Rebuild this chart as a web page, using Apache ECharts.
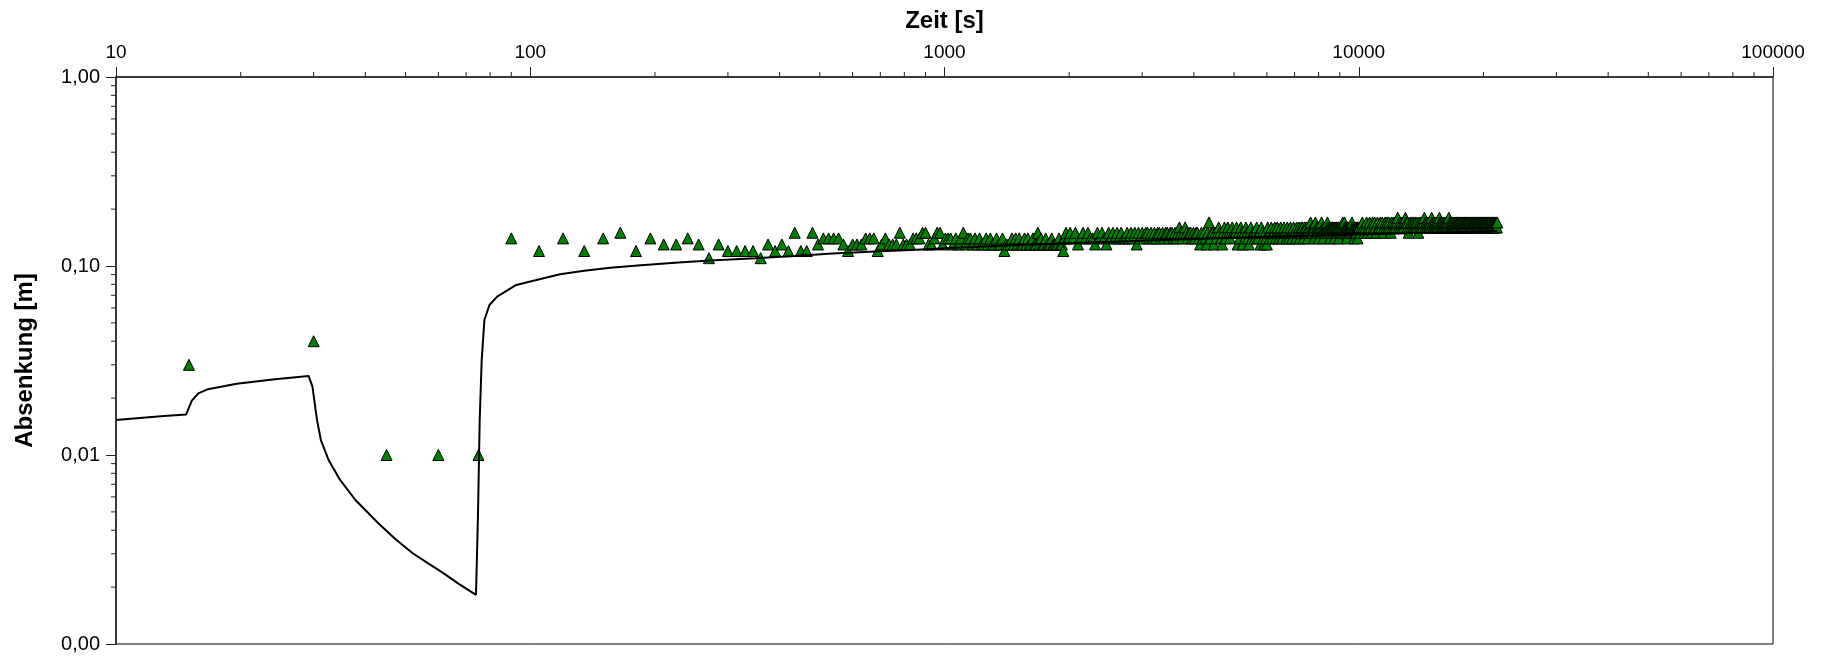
<!DOCTYPE html>
<html>
<head>
<meta charset="utf-8">
<script src="https://cdn.jsdelivr.net/npm/echarts@6/dist/echarts.min.js"></script>
<style>
  html, body { margin: 0; padding: 0; background: #fff; }
  #chart { width: 1829px; height: 658px; }
</style>
</head>
<body>
<div id="chart"></div>
<script>
// Measured drawdown in cm, logged at regular intervals (start time and step in s)
const measStartA = 15, measStepA = 15;
const measA = [3,4,1,1,1, 14,12,14,12,14, 15,12,14,13,13, 14,13,11,13,12,
  12,12,12,11,13, 12,13,12,15,12, 12,15,13,14,14, 14,14,13,12,13,
  13,13,14,14,14, 12,13,14,13,13, 13,15,13,13,13, 14,14,14,15,15,
  13,13,14,15,15, 13,14,14];

const measStartB = 1035, measStepB = 15;
const measB = [14,13,14,13,14, 15,
  13,14,14,13,14,13,14,13,13,14,13,14,13,13,14,13,13,14,
  12,
  13,13,13,14,13,
  14,13,14,13,13,14,13,14,13,13,14,13,13,15,13,14,13,13,14,
  13,13,13,14,13,13,13,13,14,13,13,
  12,
  14,15,14,14,15];

const measStartC = 2040, measStepC = 30;
const measC = [14,15,13,14,15,14,15,14,14,13,
  15,14,15,14,13,15,14,15,14,15,
  14,15,14,14,15,14,15,14,15,13,
  15,14,15,14,15,15,14,15,14,15,
  14,15,15,14,15,14,15,15,14,15,
  15,14,15,14,15,16,15,14,15,16,
  15,14,15,15,14,15,14,15,15,14,
  13,15,14,15,14,13,15,17,14,15,
  15,13,15,14,15,16,15,14,13,15,
  16,14,15,16,15,14,15,16,15,15];

const measStartD = 5040, measStepD = 30;
const measD = [15,16,13,15,14,16,15,13,15,14,
  16,15,14,13,15,16,14,15,15,14,
  15,16,14,15,15,13,16,15,14,13,
  15,14,13,16,15,14,15,16,14,15,
  15,16,14,15,16,15,14,15,16,15,
  14,15,16,15,15,14,16,15,14,15,
  16,15,14,15,16,15,15,14,16,15,
  15,16,14,15,16,15,16,14,15,16,
  15,16,15,14,16,15,16,17,15,16,
  15,16,14,16,17,15,16,15,16,14,
  16,15,16,17,15,16,14,16,15,16,
  15,16,17,16,15,16,14,16,15,16,
  16,15,16,14,16,15,16,15,16,15,
  16,14,16,15,16,15,16,17,15,16,
  17,16,15,16,14,16,15,16,15,16,
  16,15,16,17,16,15,16,14,16,15,
  16,15,16,14,16,16];

const measStartE = 10020, measStepE = 60;
const measE = [16,15,16,17,16,15,16,17,15,16,
  17,16,15,17,16,17,16,15,17,16,
  16,17,16,17,15,16,17,16,17,16,
  17,16,15,17,16,17,16,17,16,17,
  18,16,17,16,17,16,17,16,17,18,
  17,16,17,15,16,17,16,17,16,17,
  16,17,16,17,16,15,17,16,17,16,
  17,16,17,18,16,17,16,17,16,17,
  16,17,16,18,17,16,17,16,17,16,
  17,16,17,16,18,17,16,17,16,17,
  16,17,16,17,16,17,16,17,18,16,
  17,16,17,16,17,16,17,16,17,16,
  17,16,17,17,16,17,16,17,16,17,
  16,17,16,17,16,17,17,16,17,16,
  17,16,17,16,17,16,17,16,17,17,
  16,17,16,17,16,17,16,17,16,17,
  16,17,17,16,17,16,17,16,17,16,
  17,16,17,16,17,17,16,17,16,17,
  16,17,16,17,16,17,16,17,16,17,
  16,17,16,17];

// Fitted type curve: time [s] and drawdown [m]
const modelTime = [10, 13.05, 14.77, 15.24, 15.81, 16.67, 19.56, 24.19, 29.17, 29.8,
  30.57, 31.23, 32.6, 34.75, 37.84, 42.98, 47.3, 52.04, 56.7, 61.7,
  67.2, 73.96, 74.8, 75.5, 76.35, 77.5, 79.7, 83.2, 92.5, 102.9,
  118, 135, 156, 185, 228, 272, 349, 434, 536, 660,
  910, 1000, 1500, 2000, 3000, 4000, 6000, 10000, 15000, 21600];
const modelDrawdown = [0.0153, 0.0161, 0.0164, 0.0194, 0.0212, 0.0223, 0.0238, 0.0252, 0.0262, 0.0230,
  0.0153, 0.0120, 0.00941, 0.00738, 0.00578, 0.00435, 0.00358, 0.00302, 0.00267, 0.00237,
  0.00208, 0.00182, 0.00491, 0.0153, 0.0318, 0.0518, 0.0622, 0.0689, 0.0794, 0.0840,
  0.0905, 0.0945, 0.0978, 0.101, 0.1045, 0.107, 0.110, 0.113, 0.1165, 0.119,
  0.1225, 0.124, 0.129, 0.132, 0.136, 0.139, 0.143, 0.147, 0.150, 0.153];

// Axis ranges
const xDecades = [10, 100, 1000, 10000, 100000];
const yDecades = [0.001, 0.01, 0.1, 1];

function segment(start, step, values) {
  return values.map((v, i) => [start + i * step, v / 100]);
}
const measured = [].concat(
  segment(measStartA, measStepA, measA),
  segment(measStartB, measStepB, measB),
  segment(measStartC, measStepC, measC),
  segment(measStartD, measStepD, measD),
  segment(measStartE, measStepE, measE)
);
const model = modelTime.map((t, i) => [t, modelDrawdown[i]]);

// Intermediate log ticks (2..9 within each decade)
function minorValues(decades) {
  const out = [];
  for (let k = 0; k < decades.length - 1; k++) {
    for (let d = 2; d <= 9; d++) out.push(+(decades[k] * d).toPrecision(6));
  }
  return out;
}
const xMinor = minorValues(xDecades).map(v => [v, yDecades[yDecades.length - 1]]);
const yMinor = minorValues(yDecades).map(v => [xDecades[0], v]);

const FONT = "'Liberation Sans', Arial, sans-serif";
const chart = echarts.init(document.getElementById('chart'), null, { renderer: 'canvas' });

chart.setOption({
  animation: false,
  backgroundColor: '#fff',
  grid: { left: 116, right: 56, top: 77, bottom: 14, show: true, borderColor: '#000', borderWidth: 1, backgroundColor: 'transparent' },
  xAxis: {
    type: 'log', logBase: 10, position: 'top',
    min: xDecades[0], max: xDecades[xDecades.length - 1],
    name: 'Zeit [s]', nameLocation: 'middle', nameGap: 44,
    nameTextStyle: { fontFamily: FONT, fontWeight: 'bold', fontSize: 24, color: '#000' },
    axisLine: { show: true, lineStyle: { color: '#222', width: 1.5 } },
    axisTick: { show: true, inside: false, length: 10, lineStyle: { color: '#222', width: 1 } },
    axisLabel: { fontFamily: FONT, fontSize: 19, color: '#000', margin: 15,
      formatter: v => String(Math.round(v)) },
    splitLine: { show: false }
  },
  yAxis: {
    type: 'log', logBase: 10,
    min: yDecades[0], max: yDecades[yDecades.length - 1],
    name: 'Absenkung [m]', nameLocation: 'middle', nameGap: 79, nameRotate: 90,
    nameTextStyle: { fontFamily: FONT, fontWeight: 'bold', fontSize: 24, color: '#000' },
    axisLine: { show: true, lineStyle: { color: '#222', width: 1.5 } },
    axisTick: { show: true, inside: false, length: 10, lineStyle: { color: '#222', width: 1 } },
    axisLabel: { fontFamily: FONT, fontSize: 20, color: '#000', margin: 16,
      formatter: v => v.toFixed(2).replace('.', ',') },
    splitLine: { show: false }
  },
  series: [
    {
      name: 'xMinorTicks', type: 'custom', silent: true, clip: false, z: 5,
      data: xMinor,
      renderItem: (params, api) => {
        const p = api.coord([api.value(0), api.value(1)]);
        return { type: 'line', shape: { x1: p[0], y1: p[1], x2: p[0], y2: p[1] - 5 },
          style: { stroke: '#222', lineWidth: 1 } };
      }
    },
    {
      name: 'yMinorTicks', type: 'custom', silent: true, clip: false, z: 5,
      data: yMinor,
      renderItem: (params, api) => {
        const p = api.coord([api.value(0), api.value(1)]);
        return { type: 'line', shape: { x1: p[0] - 5, y1: p[1], x2: p[0], y2: p[1] },
          style: { stroke: '#222', lineWidth: 1 } };
      }
    },
    {
      name: 'Messwerte', type: 'scatter', symbol: 'triangle', symbolSize: 11, z: 3,
      itemStyle: { color: '#008000', borderColor: '#000', borderWidth: 1, opacity: 1 },
      data: measured
    },
    {
      name: 'Typkurve', type: 'line', showSymbol: false, z: 4,
      lineStyle: { color: '#000', width: 2 },
      data: model
    }
  ]
});
</script>
</body>
</html>
